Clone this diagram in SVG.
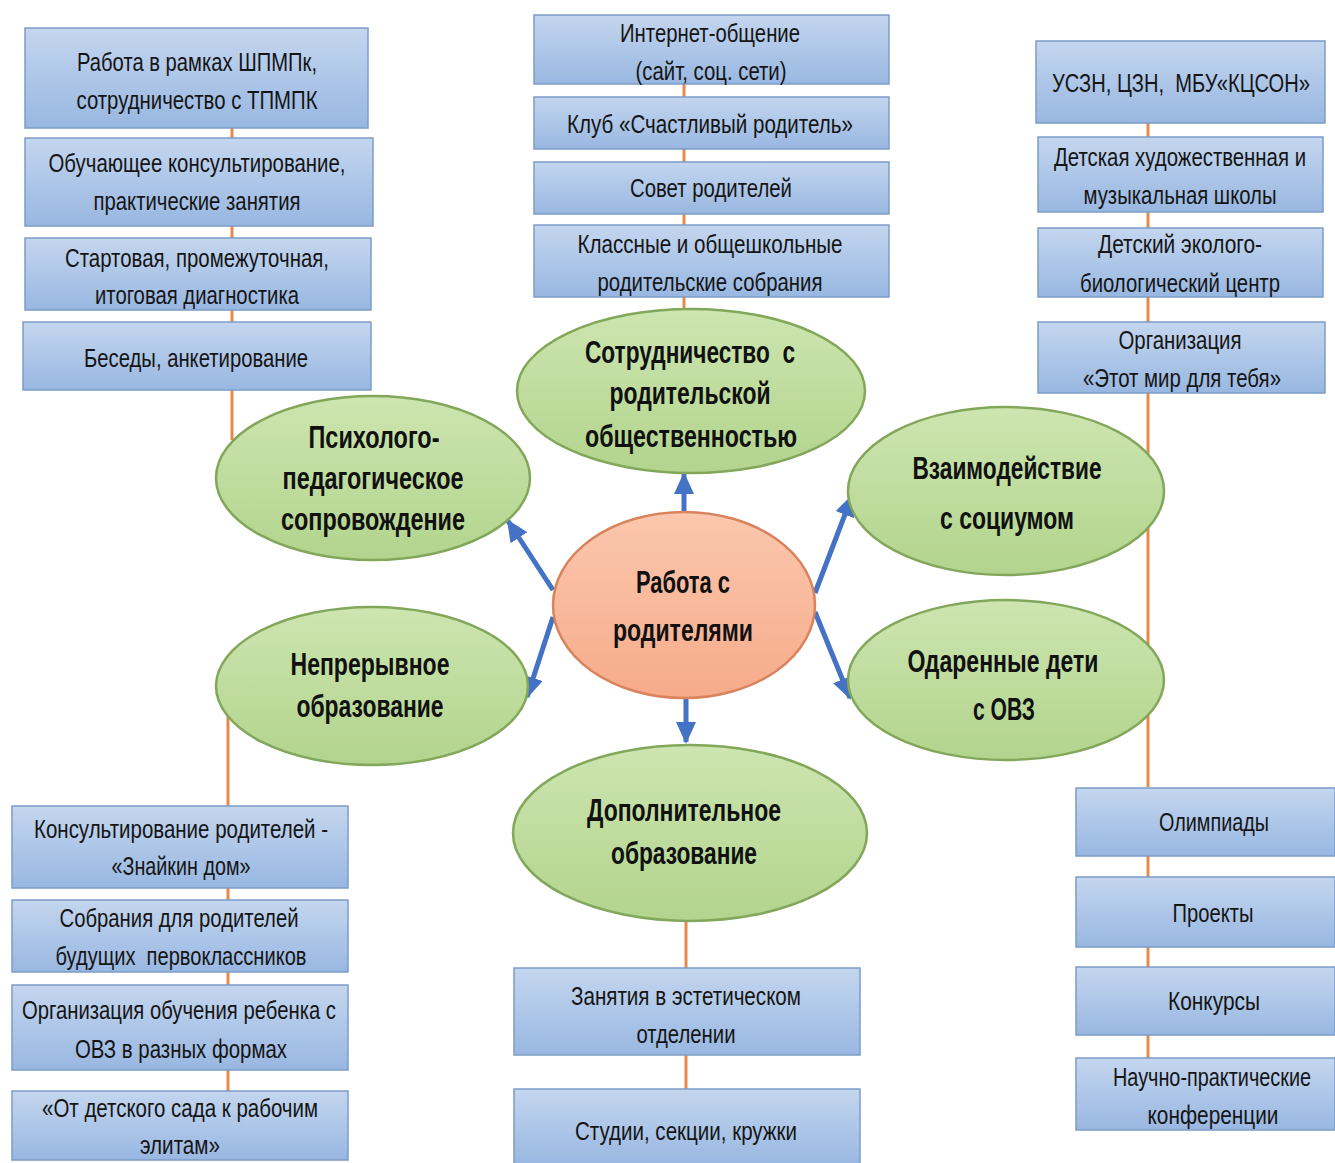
<svg xmlns="http://www.w3.org/2000/svg" width="1335" height="1163" viewBox="0 0 1335 1163">
<defs>
<linearGradient id="gBox" x1="0" y1="0" x2="0" y2="1">
<stop offset="0" stop-color="#c4d6ef"/>
<stop offset="1" stop-color="#98b7e1"/>
</linearGradient>
<linearGradient id="gEll" x1="0" y1="0" x2="0" y2="1">
<stop offset="0" stop-color="#cde5b0"/>
<stop offset="1" stop-color="#b2d48d"/>
</linearGradient>
<linearGradient id="gCen" x1="0" y1="0" x2="0" y2="1">
<stop offset="0" stop-color="#fbc7ae"/>
<stop offset="1" stop-color="#f6ab8a"/>
</linearGradient>
<marker id="arr" markerUnits="userSpaceOnUse" markerWidth="22" markerHeight="20" refX="20" refY="10" orient="auto">
<path d="M0,0 L22,10 L0,20 Z" fill="#4472c4"/>
</marker>
<style>
.box{fill:url(#gBox);stroke:#7d9cc8;stroke-width:1.5}
.ell{fill:url(#gEll);stroke:#82a75a;stroke-width:2.5}
.cen{fill:url(#gCen);stroke:#d9835c;stroke-width:2.5}
.bt{font-family:"Liberation Sans Narrow","Liberation Sans",sans-serif;font-size:25px;fill:#151515;text-anchor:middle}
.et{font-family:"Liberation Sans Narrow","Liberation Sans",sans-serif;font-size:31px;font-weight:bold;fill:#111;text-anchor:middle}
.ot{stroke:#e6894a;stroke-width:3;fill:none}
.ar{stroke:#4472c4;stroke-width:5;fill:none;marker-end:url(#arr)}
</style>
</defs>
<rect width="1335" height="1163" fill="#ffffff"/>

<g id="connectors">
<line class="ot" x1="232" y1="128" x2="232" y2="440"/>
<line class="ot" x1="684" y1="84" x2="684" y2="312"/>
<line class="ot" x1="1148" y1="123" x2="1148" y2="787"/>
<line class="ot" x1="1148" y1="855" x2="1148" y2="1058"/>
<line class="ot" x1="228" y1="700" x2="228" y2="1091"/>
<line class="ot" x1="686" y1="915" x2="686" y2="1089"/>
</g>

<g id="box-lt1"><rect class="box" x="25" y="28" width="343" height="100"/><text class="bt" x="197" y="71" textLength="240" lengthAdjust="spacingAndGlyphs">Работа в рамках ШПМПк,</text><text class="bt" x="197" y="109" textLength="241" lengthAdjust="spacingAndGlyphs">сотрудничество с ТПМПК</text></g>
<g id="box-lt2"><rect class="box" x="25" y="138" width="348" height="88"/><text class="bt" x="197" y="172" textLength="297" lengthAdjust="spacingAndGlyphs">Обучающее консультирование,</text><text class="bt" x="197" y="210" textLength="207" lengthAdjust="spacingAndGlyphs">практические занятия</text></g>
<g id="box-lt3"><rect class="box" x="25" y="238" width="346" height="72"/><text class="bt" x="197" y="267" textLength="264" lengthAdjust="spacingAndGlyphs">Стартовая, промежуточная,</text><text class="bt" x="197" y="304" textLength="204" lengthAdjust="spacingAndGlyphs">итоговая диагностика</text></g>
<g id="box-lt4"><rect class="box" x="23" y="322" width="348" height="68"/><text class="bt" x="196" y="367" textLength="224" lengthAdjust="spacingAndGlyphs">Беседы, анкетирование</text></g>

<g id="box-tm1"><rect class="box" x="534" y="15" width="355" height="69"/><text class="bt" x="710" y="42" textLength="180" lengthAdjust="spacingAndGlyphs">Интернет-общение</text><text class="bt" x="711" y="80" textLength="151" lengthAdjust="spacingAndGlyphs">(сайт, соц. сети)</text></g>
<g id="box-tm2"><rect class="box" x="534" y="97" width="355" height="52"/><text class="bt" x="710" y="133" textLength="286" lengthAdjust="spacingAndGlyphs">Клуб «Счастливый родитель»</text></g>
<g id="box-tm3"><rect class="box" x="534" y="162" width="355" height="52"/><text class="bt" x="711" y="197" textLength="162" lengthAdjust="spacingAndGlyphs">Совет родителей</text></g>
<g id="box-tm4"><rect class="box" x="534" y="225" width="355" height="72"/><text class="bt" x="710" y="253" textLength="265" lengthAdjust="spacingAndGlyphs">Классные и общешкольные</text><text class="bt" x="710" y="291" textLength="225" lengthAdjust="spacingAndGlyphs">родительские собрания</text></g>

<g id="box-rt1"><rect class="box" x="1036" y="41" width="289" height="82"/><text class="bt" x="1181" y="92" textLength="258" lengthAdjust="spacingAndGlyphs" xml:space="preserve">УСЗН, ЦЗН,  МБУ«КЦСОН»</text></g>
<g id="box-rt2"><rect class="box" x="1038" y="137" width="285" height="75"/><text class="bt" x="1180" y="166" textLength="252" lengthAdjust="spacingAndGlyphs">Детская художественная и</text><text class="bt" x="1180" y="204" textLength="193" lengthAdjust="spacingAndGlyphs">музыкальная школы</text></g>
<g id="box-rt3"><rect class="box" x="1038" y="228" width="285" height="69"/><text class="bt" x="1180" y="253" textLength="164" lengthAdjust="spacingAndGlyphs">Детский эколого-</text><text class="bt" x="1180" y="292" textLength="200" lengthAdjust="spacingAndGlyphs">биологический центр</text></g>
<g id="box-rt4"><rect class="box" x="1038" y="322" width="287" height="71"/><text class="bt" x="1180" y="349" textLength="123" lengthAdjust="spacingAndGlyphs">Организация</text><text class="bt" x="1182" y="387" textLength="198" lengthAdjust="spacingAndGlyphs">«Этот мир для тебя»</text></g>

<g id="box-rb1"><rect class="box" x="1076" y="788" width="259" height="68"/><text class="bt" x="1214" y="831" textLength="110" lengthAdjust="spacingAndGlyphs">Олимпиады</text></g>
<g id="box-rb2"><rect class="box" x="1076" y="877" width="259" height="70"/><text class="bt" x="1213" y="922" textLength="81" lengthAdjust="spacingAndGlyphs">Проекты</text></g>
<g id="box-rb3"><rect class="box" x="1076" y="967" width="259" height="68"/><text class="bt" x="1214" y="1010" textLength="92" lengthAdjust="spacingAndGlyphs">Конкурсы</text></g>
<g id="box-rb4"><rect class="box" x="1076" y="1058" width="259" height="72"/><text class="bt" x="1212" y="1086" textLength="198" lengthAdjust="spacingAndGlyphs">Научно-практические</text><text class="bt" x="1213" y="1124" textLength="131" lengthAdjust="spacingAndGlyphs">конференции</text></g>

<g id="box-lb1"><rect class="box" x="12" y="806" width="336" height="82"/><text class="bt" x="181" y="838" textLength="294" lengthAdjust="spacingAndGlyphs">Консультирование родителей -</text><text class="bt" x="181" y="875" textLength="139" lengthAdjust="spacingAndGlyphs">«Знайкин дом»</text></g>
<g id="box-lb2"><rect class="box" x="12" y="900" width="336" height="72"/><text class="bt" x="179" y="927" textLength="239" lengthAdjust="spacingAndGlyphs">Собрания для родителей</text><text class="bt" x="181" y="965" textLength="251" lengthAdjust="spacingAndGlyphs" xml:space="preserve">будущих  первоклассников</text></g>
<g id="box-lb3"><rect class="box" x="12" y="985" width="336" height="85"/><text class="bt" x="179" y="1019" textLength="314" lengthAdjust="spacingAndGlyphs">Организация обучения ребенка с</text><text class="bt" x="181" y="1058" textLength="212" lengthAdjust="spacingAndGlyphs">ОВЗ в разных формах</text></g>
<g id="box-lb4"><rect class="box" x="12" y="1091" width="336" height="69"/><text class="bt" x="180" y="1117" textLength="276" lengthAdjust="spacingAndGlyphs">«От детского сада к рабочим</text><text class="bt" x="180" y="1154" textLength="80" lengthAdjust="spacingAndGlyphs">элитам»</text></g>

<g id="box-bm1"><rect class="box" x="514" y="968" width="346" height="87"/><text class="bt" x="686" y="1005" textLength="230" lengthAdjust="spacingAndGlyphs">Занятия в эстетическом</text><text class="bt" x="686" y="1043" textLength="99" lengthAdjust="spacingAndGlyphs">отделении</text></g>
<g id="box-bm2"><rect class="box" x="514" y="1089" width="346" height="76"/><text class="bt" x="686" y="1140" textLength="222" lengthAdjust="spacingAndGlyphs">Студии, секции, кружки</text></g>

<g id="arrows">
<line class="ar" x1="684" y1="514" x2="684" y2="474"/>
<line class="ar" x1="686" y1="697" x2="686" y2="742"/>
<line class="ar" x1="553" y1="590" x2="508" y2="521"/>
<line class="ar" x1="553" y1="617" x2="527" y2="697"/>
<line class="ar" x1="815" y1="593" x2="852" y2="496"/>
<line class="ar" x1="815" y1="612" x2="850" y2="698"/>
</g>

<g id="ell-psy"><ellipse class="ell" cx="373" cy="478" rx="157" ry="82"/><text class="et" x="374" y="448" textLength="131" lengthAdjust="spacingAndGlyphs">Психолого-</text><text class="et" x="373" y="489" textLength="181" lengthAdjust="spacingAndGlyphs">педагогическое</text><text class="et" x="373" y="530" textLength="184" lengthAdjust="spacingAndGlyphs">сопровождение</text></g>
<g id="ell-sotr"><ellipse class="ell" cx="691" cy="391" rx="174" ry="82"/><text class="et" x="690" y="363" textLength="210" lengthAdjust="spacingAndGlyphs" xml:space="preserve">Сотрудничество  с</text><text class="et" x="690" y="404" textLength="161" lengthAdjust="spacingAndGlyphs">родительской</text><text class="et" x="691" y="447" textLength="212" lengthAdjust="spacingAndGlyphs">общественностью</text></g>
<g id="ell-vz"><ellipse class="ell" cx="1006" cy="491" rx="158" ry="84"/><text class="et" x="1007" y="479" textLength="189" lengthAdjust="spacingAndGlyphs">Взаимодействие</text><text class="et" x="1007" y="529" textLength="134" lengthAdjust="spacingAndGlyphs">с социумом</text></g>
<g id="ell-od"><ellipse class="ell" cx="1006" cy="680" rx="158" ry="80"/><text class="et" x="1003" y="672" textLength="191" lengthAdjust="spacingAndGlyphs">Одаренные дети</text><text class="et" x="1004" y="720" textLength="62" lengthAdjust="spacingAndGlyphs">с ОВЗ</text></g>
<g id="ell-nep"><ellipse class="ell" cx="372" cy="686" rx="156" ry="79"/><text class="et" x="370" y="675" textLength="159" lengthAdjust="spacingAndGlyphs">Непрерывное</text><text class="et" x="370" y="717" textLength="147" lengthAdjust="spacingAndGlyphs">образование</text></g>
<g id="ell-dop"><ellipse class="ell" cx="690" cy="833" rx="177" ry="88"/><text class="et" x="684" y="821" textLength="194" lengthAdjust="spacingAndGlyphs">Дополнительное</text><text class="et" x="684" y="864" textLength="146" lengthAdjust="spacingAndGlyphs">образование</text></g>
<g id="center"><ellipse class="cen" cx="684" cy="605" rx="131" ry="93"/><text class="et" x="683" y="593" textLength="94" lengthAdjust="spacingAndGlyphs">Работа с</text><text class="et" x="683" y="641" textLength="140" lengthAdjust="spacingAndGlyphs">родителями</text></g>
</svg>
